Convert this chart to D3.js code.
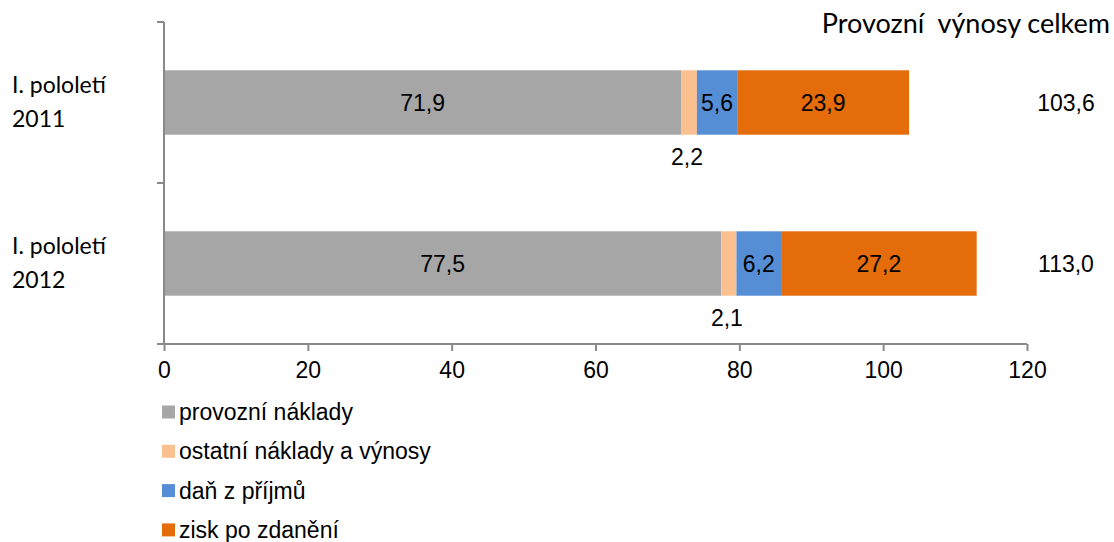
<!DOCTYPE html>
<html>
<head>
<meta charset="utf-8">
<script src="https://cdn.jsdelivr.net/npm/d3@7/dist/d3.min.js"></script>
<style>
  html, body { margin: 0; padding: 0; background: #fff; }
  svg { display: block; }
</style>
</head>
<body>
<svg id="chart" width="1114" height="542"></svg>
<script>
// ---- data ----
const categories = [["I. pololetí", "2011"], ["I. pololetí", "2012"]];
const categoryKeys = ["2011", "2012"];
const seriesNames = ["provozní náklady", "ostatní náklady a výnosy", "daň z příjmů", "zisk po zdanění"];
const seriesColors = ["#A6A6A6", "#FAC090", "#558ED5", "#E46C0A"];
const provozniNaklady = [71.9, 77.5];
const ostatniNaklady = [2.2, 2.1];
const danZPrijmu = [5.6, 6.2];
const ziskPoZdaneni = [23.9, 27.2];
const totals = [103.6, 113.0];
const totalLabels = ["103,6", "113,0"];
const xTicks = [0, 20, 40, 60, 80, 100, 120];
const totalsTitle = "Provozní  výnosy celkem";

const seriesValues = [provozniNaklady, ostatniNaklady, danZPrijmu, ziskPoZdaneni];
const fmt = v => d3.format(".1f")(v).replace(".", ",");

// ---- layout ----
const svg = d3.select("#chart");
const axisColor = "#898989";
const numFont = "'Liberation Sans', Arial, sans-serif";
const calFont = "Lato, 'Open Sans', sans-serif";

const x = d3.scaleLinear().domain([0, 120]).range([164, 1027]);
const y = d3.scaleBand().domain(categoryKeys).range([22, 344])
  .paddingInner(0.6).paddingOuter(0.3);

// stacked data
const rows = categoryKeys.map((k, i) => {
  let acc = 0;
  return seriesValues.map((vals, s) => {
    const x0 = acc; acc += vals[i];
    return { key: k, s, v: vals[i], x0, x1: acc };
  });
});

// bars
const g = svg.append("g");
rows.forEach(segs => {
  g.selectAll(null).data(segs).enter().append("rect")
    .attr("x", d => x(d.x0))
    .attr("width", d => x(d.x1) - x(d.x0))
    .attr("y", d => y(d.key))
    .attr("height", y.bandwidth())
    .attr("fill", d => seriesColors[d.s]);
});

// axes
const xAxis = d3.axisBottom(x).tickValues(xTicks).tickSize(7).tickSizeOuter(0).tickFormat(d3.format("d"));
const xg = svg.append("g").attr("transform", "translate(0,344)").call(xAxis);
xg.select(".domain").attr("stroke", axisColor).attr("stroke-width", 2)
  .attr("d", `M${x(0) - 7},0H${x(120)}`);
xg.selectAll(".tick line").attr("stroke", axisColor).attr("stroke-width", 2);
xg.selectAll(".tick text").attr("fill", "#000").attr("font-family", numFont)
  .attr("font-size", 23).attr("dy", null).attr("y", 34);

// vertical axis with category boundary ticks
const bounds = [22, 183, 344];
svg.append("line").attr("x1", x(0)).attr("x2", x(0)).attr("y1", 22).attr("y2", 344)
  .attr("stroke", axisColor).attr("stroke-width", 2);
svg.selectAll(null).data(bounds.slice(0, 2)).enter().append("line")
  .attr("x1", x(0) - 7).attr("x2", x(0)).attr("y1", d => d).attr("y2", d => d)
  .attr("stroke", axisColor).attr("stroke-width", 2);

// category labels
categories.forEach((lines, i) => {
  const cy = y(categoryKeys[i]) + y.bandwidth() / 2;
  const t = svg.append("text").attr("font-family", calFont).attr("font-size", 23).attr("fill", "#000");
  t.append("tspan").attr("x", 12).attr("y", cy - 10).text(lines[0]);
  t.append("tspan").attr("x", 12).attr("y", cy + 24).text(lines[1]);
});

// data labels
rows.forEach(segs => {
  segs.forEach(d => {
    const cy = y(d.key) + y.bandwidth() / 2;
    const cx = (x(d.x0) + x(d.x1)) / 2;
    const below = d.s === 1;
    svg.append("text")
      .attr("x", cx - (below ? 2 : 0))
      .attr("y", below ? y(d.key) + y.bandwidth() + 22 : cy)
      .attr("dy", "0.35em")
      .attr("text-anchor", "middle")
      .attr("font-family", numFont).attr("font-size", 23).attr("fill", "#000")
      .text(fmt(d.v));
  });
});

// totals
totals.forEach((t, i) => {
  svg.append("text")
    .attr("x", 1066)
    .attr("y", y(categoryKeys[i]) + y.bandwidth() / 2)
    .attr("dy", "0.35em").attr("text-anchor", "middle")
    .attr("font-family", numFont).attr("font-size", 23).attr("fill", "#000")
    .text(totalLabels[i]);
});
svg.append("text").attr("x", 1110).attr("y", 33).attr("text-anchor", "end")
  .attr("font-family", calFont).attr("font-size", 27).attr("fill", "#000")
  .attr("xml:space", "preserve").style("white-space", "pre")
  .text(totalsTitle);

// legend
const lg = svg.append("g");
seriesNames.forEach((name, i) => {
  const cy = 412 + i * 39.3;
  lg.append("rect").attr("x", 162).attr("y", cy - 6.5).attr("width", 13).attr("height", 13)
    .attr("fill", seriesColors[i]);
  lg.append("text").attr("x", 179).attr("y", cy).attr("dy", "0.35em")
    .attr("font-family", numFont).attr("font-size", 23).attr("fill", "#000").text(name);
});
</script>
</body>
</html>
